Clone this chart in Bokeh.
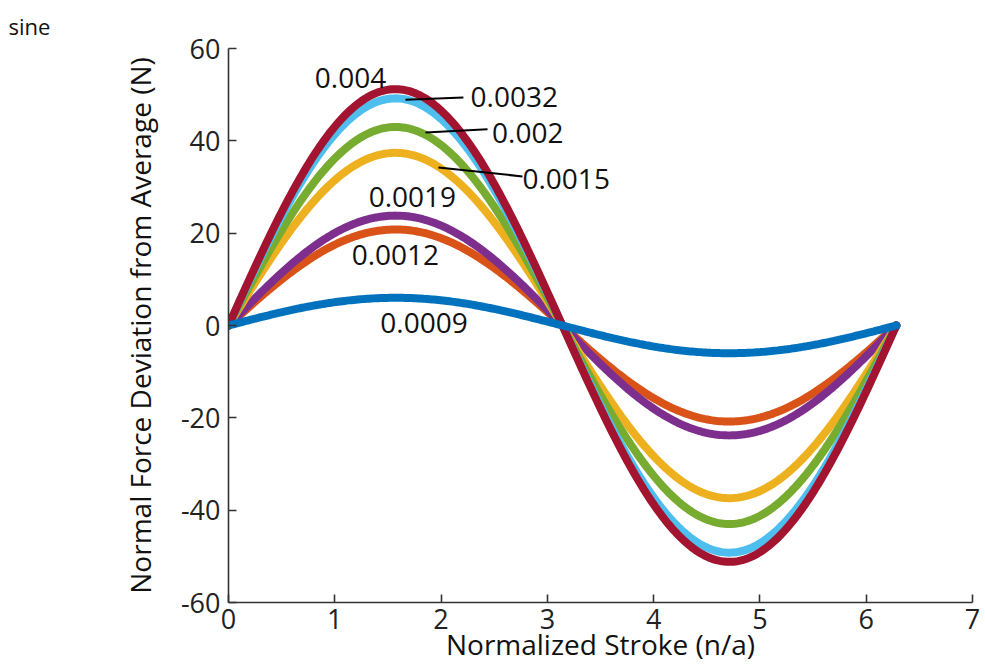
import numpy as np
from bokeh.plotting import figure
from bokeh.models import Range1d, FixedTicker
from bokeh.core.properties import value
from bokeh.embed import file_html
from bokeh.resources import INLINE

# ---- data ----
labels = ["0.0009", "0.0012", "0.0019", "0.0015", "0.002", "0.0032", "0.004"]
amplitudes = [6.0, 20.8, 23.8, 37.4, 43.0, 49.2, 51.2]
colors = ["#0072BD", "#D95319", "#7E2F8E", "#EDB120", "#77AC30", "#4DBEEE", "#A2142F"]
stroke_end = 2 * np.pi
n_samples = 300

label_x = [1.84, 1.57, 1.73, 2.766, 2.48, 2.277, 1.148]
label_y = [0.6, 15.2, 27.9, 31.8, 41.8, 49.4, 53.7]
label_align = ["center", "center", "center", "left", "left", "left", "center"]

leader_x0 = [1.665, 1.853, 1.975]
leader_y0 = [48.9, 41.8, 34.2]
leader_x1 = [2.21, 2.437, 2.766]
leader_y1 = [49.4, 42.5, 32.3]

x_ticks = [0, 1, 2, 3, 4, 5, 6, 7]
y_ticks = [-60, -40, -20, 0, 20, 40, 60]

FONT = "Open Sans"

p = figure(width=985, height=667, output_backend="svg", toolbar_location=None,
           x_range=Range1d(0, 7), y_range=Range1d(-60, 60),
           min_border_left=228, min_border_right=13, min_border_top=48,
           min_border_bottom=65)
p.outline_line_color = None
p.xgrid.visible = False
p.ygrid.visible = False
p.background_fill_color = "white"
p.border_fill_color = "white"

p.title.text = "sine"
p.title.text_font = FONT
p.title.text_font_size = "22px"
p.title.text_font_style = "normal"
p.title.text_color = "#111111"
p.title.align = "left"
p.title.vertical_align = "top"
p.title.offset = -220
p.title.standoff = 12

xs = np.linspace(0, stroke_end, n_samples)
order = [1, 2, 3, 4, 5, 6, 0]
for i in order:
    p.line(xs, amplitudes[i] * np.sin(xs), line_color=colors[i], line_width=8,
           line_cap="round")

p.segment(leader_x0, leader_y0, leader_x1, leader_y1, line_color="black", line_width=2)

for tx, ty, t, al in zip(label_x, label_y, labels, label_align):
    p.text([tx], [ty], text=[t], text_font=value(FONT), text_font_size="28px",
           text_align=al, text_baseline="middle", text_color="#111111")

for ax in (p.xaxis[0], p.yaxis[0]):
    ax.axis_line_color = "#333333"
    ax.axis_line_width = 1.6
    ax.major_tick_line_color = "#333333"
    ax.major_tick_line_width = 1.6
    ax.major_tick_in = 8
    ax.major_tick_out = 0
    ax.minor_tick_line_color = None
    ax.major_label_text_font = FONT
    ax.major_label_text_font_size = "27px"
    ax.major_label_text_color = "#222222"
    ax.axis_label_text_font = FONT
    ax.axis_label_text_font_style = "normal"
    ax.axis_label_text_color = "#111111"

p.xaxis.axis_label_text_font_size = "28px"
p.yaxis.axis_label_text_font_size = "28px"
p.xaxis.ticker = FixedTicker(ticks=x_ticks)
p.yaxis.ticker = FixedTicker(ticks=y_ticks)
p.yaxis.major_label_overrides = {t: str(t) for t in y_ticks}
p.xaxis.axis_label = "Normalized Stroke (n/a)"
p.yaxis.axis_label = "Normal Force Deviation from Average (N)"
p.xaxis.major_label_standoff = 6
p.yaxis.major_label_standoff = 8
p.xaxis.axis_label_standoff = -7
p.yaxis.axis_label_standoff = 19

open("out.html", "w").write(file_html(p, INLINE))
